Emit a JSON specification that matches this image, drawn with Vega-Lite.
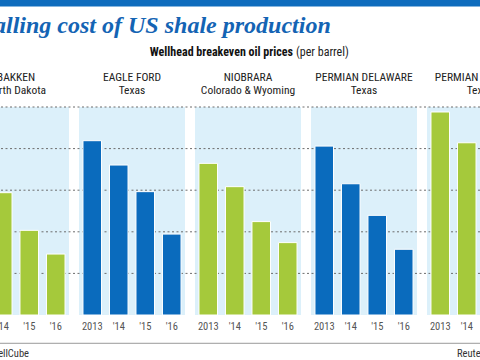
{
  "$schema": "https://vega.github.io/schema/vega-lite/v6.json",
  "width": 480,
  "height": 208,
  "autosize": {"type": "none"},
  "padding": {"left": 0, "right": 0, "top": 107, "bottom": 45},
  "background": "white",
  "config": {"view": {"stroke": null}},
  "datasets": {
    "shale": [
      {"panel": "BAKKEN", "state": "North Dakota", "year": "2013", "label": "2013", "price": 76},
      {"panel": "BAKKEN", "state": "North Dakota", "year": "2014", "label": "'14", "price": 58.8},
      {"panel": "BAKKEN", "state": "North Dakota", "year": "2015", "label": "'15", "price": 40.7},
      {"panel": "BAKKEN", "state": "North Dakota", "year": "2016", "label": "'16", "price": 29.3},
      {"panel": "EAGLE FORD", "state": "Texas", "year": "2013", "label": "2013", "price": 83.8},
      {"panel": "EAGLE FORD", "state": "Texas", "year": "2014", "label": "'14", "price": 72.1},
      {"panel": "EAGLE FORD", "state": "Texas", "year": "2015", "label": "'15", "price": 59.3},
      {"panel": "EAGLE FORD", "state": "Texas", "year": "2016", "label": "'16", "price": 38.9},
      {"panel": "NIOBRARA", "state": "Colorado & Wyoming", "year": "2013", "label": "2013", "price": 72.9},
      {"panel": "NIOBRARA", "state": "Colorado & Wyoming", "year": "2014", "label": "'14", "price": 61.7},
      {"panel": "NIOBRARA", "state": "Colorado & Wyoming", "year": "2015", "label": "'15", "price": 44.9},
      {"panel": "NIOBRARA", "state": "Colorado & Wyoming", "year": "2016", "label": "'16", "price": 34.8},
      {"panel": "PERMIAN DELAWARE", "state": "Texas", "year": "2013", "label": "2013", "price": 81.2},
      {"panel": "PERMIAN DELAWARE", "state": "Texas", "year": "2014", "label": "'14", "price": 63.1},
      {"panel": "PERMIAN DELAWARE", "state": "Texas", "year": "2015", "label": "'15", "price": 47.9},
      {"panel": "PERMIAN DELAWARE", "state": "Texas", "year": "2016", "label": "'16", "price": 31.6},
      {"panel": "PERMIAN MIDLAND", "state": "Texas", "year": "2013", "label": "2013", "price": 97.6},
      {"panel": "PERMIAN MIDLAND", "state": "Texas", "year": "2014", "label": "'14", "price": 82.8},
      {"panel": "PERMIAN MIDLAND", "state": "Texas", "year": "2015", "label": "'15", "price": 62},
      {"panel": "PERMIAN MIDLAND", "state": "Texas", "year": "2016", "label": "'16", "price": 45}
    ],
    "grid": [{"tick": 20}, {"tick": 40}, {"tick": 60}, {"tick": 80}, {"tick": 100}],
    "one": [{}]
  },
  "data": {"name": "shale"},
  "encoding": {
    "x": {
      "field": "panel", "type": "nominal", "axis": null,
      "scale": {
        "domain": ["BAKKEN", "EAGLE FORD", "NIOBRARA", "PERMIAN DELAWARE", "PERMIAN MIDLAND"],
        "range": [-42, 538],
        "paddingInner": 0.0862, "paddingOuter": 0.0431
      }
    }
  },
  "layer": [
    {
      "transform": [{"aggregate": [{"op": "count", "as": "n"}], "groupby": ["panel", "state"]}],
      "mark": {"type": "bar", "color": "#dcf0fa"},
      "encoding": {
        "y": {"datum": 100, "type": "quantitative", "scale": {"domain": [0, 100], "nice": false, "clamp": false}, "axis": null},
        "y2": {"datum": 0}
      }
    },
    {
      "data": {"name": "grid"},
      "mark": {"type": "rule", "color": "#6d6d6d", "strokeDash": [2, 2.5], "strokeWidth": 1},
      "encoding": {
        "x": null,
        "y": {"field": "tick", "type": "quantitative"}
      }
    },
    {
      "mark": {"type": "bar", "stroke": "white", "strokeWidth": 1},
      "encoding": {
        "xOffset": {"field": "year", "type": "nominal", "scale": {"domain": ["2013", "2014", "2015", "2016"], "paddingInner": 0.3, "paddingOuter": 0.15}},
        "y": {"field": "price", "type": "quantitative"},
        "color": {
          "field": "panel", "type": "nominal", "legend": null,
          "scale": {
            "domain": ["BAKKEN", "EAGLE FORD", "NIOBRARA", "PERMIAN DELAWARE", "PERMIAN MIDLAND"],
            "range": ["#a5c93b", "#0a6bbd", "#a5c93b", "#0a6bbd", "#a5c93b"]
          }
        }
      }
    },
    {
      "mark": {"type": "text", "font": "Roboto Condensed, Liberation Sans Narrow, DejaVu Sans Condensed, sans-serif", "fontSize": 10.5, "color": "#555555", "baseline": "alphabetic", "dy": 15},
      "encoding": {
        "xOffset": {"field": "year", "type": "nominal"},
        "y": {"datum": 0},
        "text": {"field": "label"}
      }
    },
    {
      "transform": [{"aggregate": [{"op": "count", "as": "n"}], "groupby": ["panel", "state"]}],
      "mark": {"type": "text", "font": "Roboto Condensed, Liberation Sans Narrow, DejaVu Sans Condensed, sans-serif", "fontSize": 11.5, "color": "#222222", "baseline": "alphabetic", "dy": -26},
      "encoding": {"y": {"datum": 100}, "text": {"field": "panel"}}
    },
    {
      "transform": [{"aggregate": [{"op": "count", "as": "n"}], "groupby": ["panel", "state"]}],
      "mark": {"type": "text", "font": "Roboto Condensed, Liberation Sans Narrow, DejaVu Sans Condensed, sans-serif", "fontSize": 11.5, "color": "#222222", "baseline": "alphabetic", "dy": -13},
      "encoding": {"y": {"datum": 100}, "text": {"field": "state"}}
    },
    {
      "data": {"name": "one"},
      "mark": {"type": "text", "font": "Liberation Serif, DejaVu Serif, serif", "fontSize": 24, "fontWeight": "bold", "fontStyle": "italic", "color": "#1464b4", "align": "left", "baseline": "alphabetic", "dx": -38, "dy": -74},
      "encoding": {"x": {"datum": "BAKKEN"}, "y": {"datum": 100}, "text": {"value": "Falling cost of US shale production"}}
    },
    {
      "data": {"name": "one"},
      "mark": {"type": "text", "font": "Roboto Condensed, Liberation Sans Narrow, DejaVu Sans Condensed, sans-serif", "fontSize": 12, "fontWeight": "bold", "color": "#111111", "align": "right", "baseline": "alphabetic", "dx": 45, "dy": -51},
      "encoding": {"x": {"datum": "NIOBRARA"}, "y": {"datum": 100}, "text": {"value": "Wellhead breakeven oil prices"}}
    },
    {
      "data": {"name": "one"},
      "mark": {"type": "text", "font": "Roboto Condensed, Liberation Sans Narrow, DejaVu Sans Condensed, sans-serif", "fontSize": 12, "color": "#222222", "align": "left", "baseline": "alphabetic", "dx": 48, "dy": -51},
      "encoding": {"x": {"datum": "NIOBRARA"}, "y": {"datum": 100}, "text": {"value": "(per barrel)"}}
    },
    {
      "data": {"name": "one"},
      "mark": {"type": "rule", "color": "#0f6cbd", "strokeWidth": 7},
      "encoding": {"x": null, "y": {"datum": 150}}
    },
    {
      "data": {"name": "one"},
      "mark": {"type": "rule", "color": "#9a9a9a", "strokeWidth": 1},
      "encoding": {"x": null, "y": {"datum": -13.6}}
    },
    {
      "data": {"name": "one"},
      "mark": {"type": "text", "font": "Roboto Condensed, Liberation Sans Narrow, DejaVu Sans Condensed, sans-serif", "fontSize": 10.5, "color": "#333333", "align": "right", "baseline": "alphabetic", "dx": 13, "dy": 42},
      "encoding": {"x": {"datum": "BAKKEN"}, "y": {"datum": 0}, "text": {"value": "Source: WellCube"}}
    },
    {
      "data": {"name": "one"},
      "mark": {"type": "text", "font": "Roboto Condensed, Liberation Sans Narrow, DejaVu Sans Condensed, sans-serif", "fontSize": 10.5, "color": "#333333", "align": "left", "baseline": "alphabetic", "dx": -23, "dy": 42},
      "encoding": {"x": {"datum": "PERMIAN MIDLAND"}, "y": {"datum": 0}, "text": {"value": "Reuters"}}
    }
  ]
}
